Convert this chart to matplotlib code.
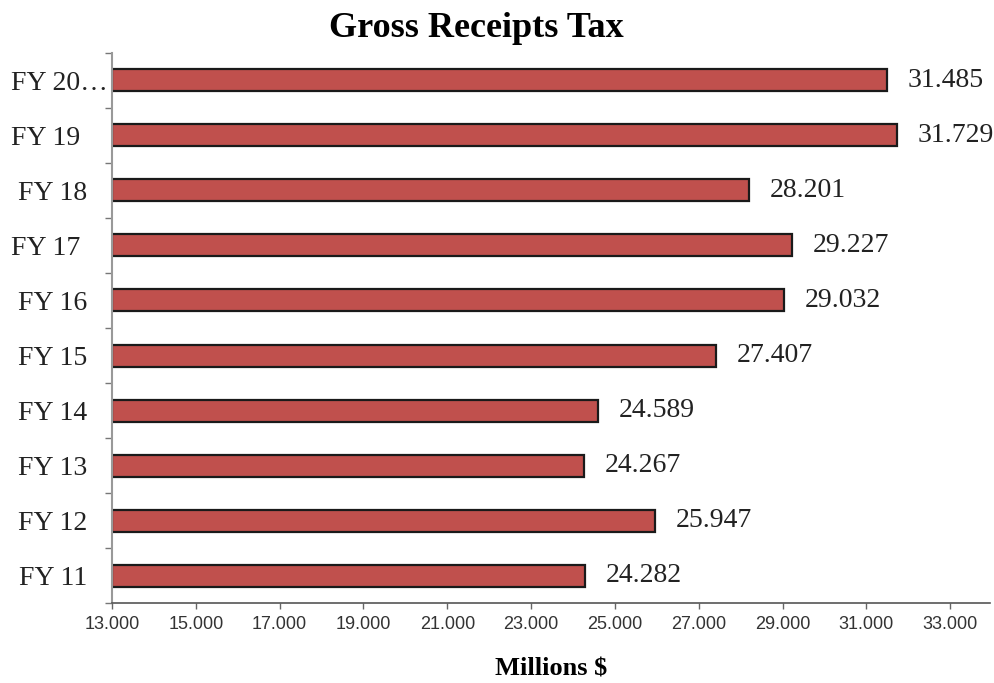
import matplotlib.pyplot as plt
from matplotlib.transforms import ScaledTranslation

# data, top to bottom as in the chart
years = ['FY 20\u2026', 'FY 19 ', 'FY 18', 'FY 17 ', 'FY 16', 'FY 15', 'FY 14', 'FY 13', 'FY 12', 'FY 11']
receipts = [31.485, 31.729, 28.201, 29.227, 29.032, 27.407, 24.589, 24.267, 25.947, 24.282]
x_ticks = [13, 15, 17, 19, 21, 23, 25, 27, 29, 31, 33]

serif = 'Liberation Serif'
sans = 'Liberation Sans'

fig = plt.figure(figsize=(9.95, 6.83), dpi=100)
ax = fig.add_axes([0.1126, 0.1165, 0.8824, 0.8065])

base = x_ticks[0]
pos = list(range(len(years)))[::-1]  # first item at the top
bars = ax.barh(pos, [v - base for v in receipts], left=base, height=0.4,
               color='#C0504D', edgecolor='#1a1a1a', linewidth=1.6)

# value labels right of each bar
for p, v in zip(pos, receipts):
    ax.annotate('%.3f' % v, (v, p), xytext=(15, 0), textcoords='offset points',
                va='center', ha='left', fontsize=20, family=serif, color='#222222')

ax.set_xlim(base, 33.95)
ax.set_ylim(-0.5, len(years) - 0.5)

ax.set_xticks(x_ticks)
ax.set_xticklabels(['%.3f' % t for t in x_ticks], family=sans, fontsize=13, color='#333333')
ax.tick_params(axis='x', length=4, width=1, color='#666666', pad=5)

ax.set_yticks(pos)
ax.set_yticklabels(years, family=serif, fontsize=20, color='#222222')
ax.tick_params(axis='y', which='major', length=0, pad=18)
ax.set_yticks([p - 0.5 for p in range(len(years) + 1)], minor=True)
ax.tick_params(axis='y', which='minor', length=5, width=1, color='#777777')

# the top label spills further right, as in the original
lab = ax.get_yticklabels()[0]
lab.set_transform(lab.get_transform() + ScaledTranslation(0.21, 0, fig.dpi_scale_trans))

for s in ['top', 'right']:
    ax.spines[s].set_visible(False)
ax.spines['left'].set_color('#999999')
ax.spines['left'].set_linewidth(1.5)
ax.spines['bottom'].set_color('#555555')
ax.spines['bottom'].set_linewidth(1.2)

fig.text(0.479, 0.958, 'Gross Receipts Tax', ha='center', va='center',
         family=serif, fontweight='bold', fontsize=26)
ax.set_xlabel('Millions $', family=serif, fontweight='bold', fontsize=19, labelpad=18)

plt.savefig('out.png', dpi=100)
